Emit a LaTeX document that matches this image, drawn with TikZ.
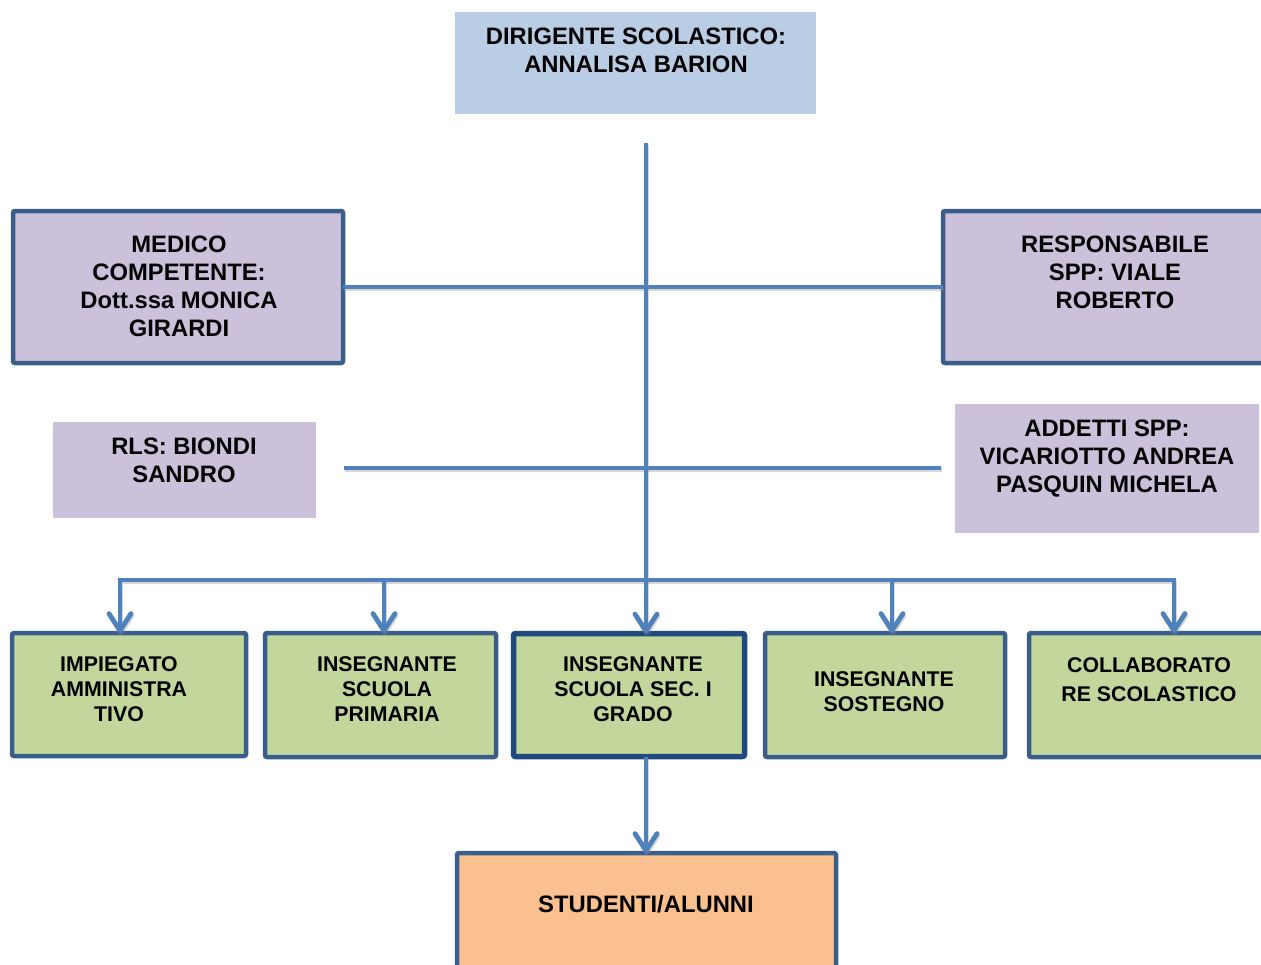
\documentclass[tikz,border=0pt]{standalone}
\usepackage{fontspec}
\setmainfont{Liberation Sans}
\usetikzlibrary{arrows.meta,calc}
\definecolor{topblue}{HTML}{B9CDE5}
\definecolor{lilac}{HTML}{CCC1DA}
\definecolor{leaf}{HTML}{C3D69B}
\definecolor{peach}{HTML}{FAC090}
\definecolor{bordc}{HTML}{3A5E8C}
\definecolor{bordd}{HTML}{204A7E}
\definecolor{connc}{HTML}{4F81BD}
\begin{document}
\begin{tikzpicture}[x=1pt,y=-1pt,
  plain/.style={inner sep=0pt,outer sep=0pt},
  framed/.style={draw=bordc,line width=4.5pt,rounded corners=2pt,inner sep=0pt,outer sep=0pt},
  lab/.style={align=center,inner sep=0pt,font=\fontsize{23.8}{28}\selectfont\bfseries},
  glab/.style={align=center,inner sep=0pt,font=\fontsize{21.3}{25}\selectfont\bfseries},
  conn/.style={draw=connc,line width=4.8pt,
    preaction={draw=black!45,opacity=0.35,line width=4.8pt,transform canvas={shift={(1pt,-2pt)}}}},
  tip/.tip={Straight Barb[length=17pt,width=22pt,line cap=round,line join=round]},
]
\useasboundingbox (0,0) rectangle (1261,964);

% boxes
\node[plain,fill=topblue,minimum width=361pt,minimum height=102pt] (dir) at (635.5,63) {};
\node[lab] (dirt) at (636,50) {DIRIGENTE SCOLASTICO:\\ANNALISA BARION};

\node[framed,fill=lilac,minimum width=330pt,minimum height=152pt] (med) at (178,287) {};
\node[lab] (medt) at (179,286) {MEDICO\\COMPETENTE:\\Dott.ssa MONICA\\GIRARDI};

\node[framed,fill=lilac,minimum width=344pt,minimum height=152pt] (resp) at (1115,287) {};
\node[lab] (respt) at (1115,272.5) {RESPONSABILE\\SPP: VIALE\\ROBERTO};

\node[plain,fill=lilac,minimum width=263pt,minimum height=96pt] (rls) at (184.5,470) {};
\node[lab] (rlst) at (184,460) {RLS: BIONDI\\SANDRO};

\node[plain,fill=lilac,minimum width=304pt,minimum height=129pt] (add) at (1107,468.5) {};
\node[lab] (addt) at (1107,459) {ADDETTI SPP:\\VICARIOTTO ANDREA\\PASQUIN MICHELA};

\node[framed,fill=leaf,minimum width=234pt,minimum height=123pt] (g1) at (129,694.5) {};
\node[glab] (g1t) at (119,689) {IMPIEGATO\\AMMINISTRA\\TIVO};

\node[framed,fill=leaf,minimum width=231pt,minimum height=124pt] (g2) at (380.5,695) {};
\node[glab] (g2t) at (387,689) {INSEGNANTE\\SCUOLA\\PRIMARIA};

\node[framed,draw=bordd,line width=5.5pt,fill=leaf,minimum width=231pt,minimum height=123pt] (g3) at (629,695) {};
\node[glab] (g3t) at (633,689) {INSEGNANTE\\SCUOLA SEC. I\\GRADO};

\node[framed,fill=leaf,minimum width=240pt,minimum height=124pt] (g4) at (885,695) {};
\node[glab] (g4t) at (884,691.5) {INSEGNANTE\\SOSTEGNO};

\node[framed,fill=leaf,minimum width=240pt,minimum height=124pt] (g5) at (1149,695) {};
\node[glab,font=\fontsize{21.3}{29}\selectfont\bfseries] (g5t) at (1149,680) {COLLABORATO\\RE SCOLASTICO};

\node[framed,fill=peach,minimum width=379pt,minimum height=130pt] (stu) at (646.5,918) {};
\node[lab] (stut) at (646,904) {STUDENTI/ALUNNI};

% connector points
\coordinate (top) at (646,143);
\coordinate (l2a) at (344,468);
\coordinate (l2b) at (941,468);
\coordinate (c1) at (120,580);
\coordinate (c2) at (384,580);
\coordinate (c4) at (892,580);
\coordinate (c5) at (1174,580);

% connectors
\draw[conn] (med.east) -- (resp.west);
\draw[conn] (l2a) -- (l2b);
\draw[conn,tip-tip,line join=miter] (c1 |- g1.north) -- (c1) -- (c5) -- (c5 |- g5.north);
\draw[conn,-tip] (c2) -- (c2 |- g2.north);
\draw[conn,-tip] (c4) -- (c4 |- g4.north);
\draw[conn,-tip] (top) -- (top |- g3.north);
\draw[conn,-tip] (g3.south -| top) -- (stu.north -| top);
\end{tikzpicture}
\end{document}
